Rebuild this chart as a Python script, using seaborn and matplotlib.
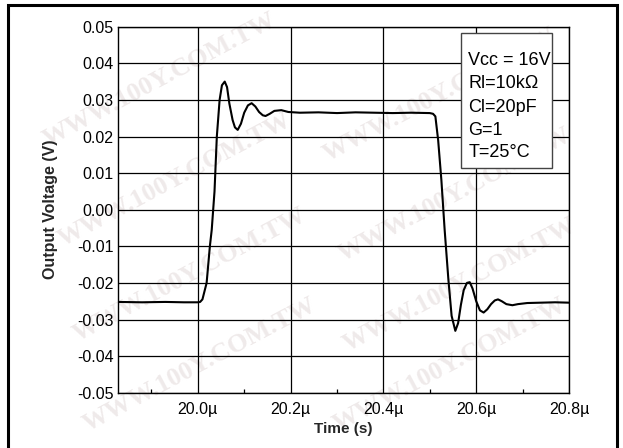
import matplotlib
matplotlib.use("Agg")
import matplotlib.pyplot as plt
from matplotlib.patches import Rectangle
from matplotlib.ticker import MultipleLocator, FuncFormatter
import seaborn as sns
import pandas as pd

# Step response of the amplifier output (time in microseconds, voltage in volts)
time_us = [
    19.828, 19.88, 19.93, 19.97, 20.000, 20.005, 20.010, 20.014, 20.019, 20.026,
    20.030, 20.036, 20.041, 20.047, 20.052, 20.058, 20.063, 20.068, 20.075, 20.080,
    20.086, 20.093, 20.100, 20.108, 20.116, 20.124, 20.132, 20.140, 20.146, 20.155,
    20.165, 20.180, 20.195, 20.22, 20.26, 20.30, 20.34, 20.38, 20.42, 20.46,
    20.500, 20.507, 20.512, 20.518, 20.525, 20.532, 20.540, 20.547, 20.555, 20.561,
    20.567, 20.573, 20.580, 20.586, 20.592, 20.600, 20.608, 20.616, 20.624, 20.632,
    20.640, 20.647, 20.655, 20.665, 20.678, 20.69, 20.71, 20.74, 20.77, 20.80,
]
voltage = [
    -0.0252, -0.0253, -0.0252, -0.0253, -0.0253, -0.0252, -0.0245, -0.0225, -0.0200, -0.0100,
    -0.0055, 0.0050, 0.0200, 0.0300, 0.0340, 0.0350, 0.0335, 0.0290, 0.0245, 0.0225,
    0.0218, 0.0235, 0.0265, 0.0285, 0.0291, 0.0282, 0.0267, 0.0258, 0.0256, 0.0262,
    0.0270, 0.0272, 0.0267, 0.0265, 0.0266, 0.0264, 0.0266, 0.0265, 0.0264, 0.0265,
    0.0264, 0.0262, 0.0255, 0.0190, 0.0080, -0.0055, -0.0190, -0.0290, -0.0331, -0.0310,
    -0.0260, -0.0220, -0.0200, -0.0198, -0.0215, -0.0250, -0.0275, -0.0281, -0.0272, -0.0258,
    -0.0248, -0.0245, -0.0250, -0.0258, -0.0261, -0.0258, -0.0255, -0.0254, -0.0253, -0.0254,
]

x_ticks = [20.0, 20.2, 20.4, 20.6, 20.8]
y_ticks = [-0.05, -0.04, -0.03, -0.02, -0.01, 0.00, 0.01, 0.02, 0.03, 0.04, 0.05]
conditions = ["Vcc = 16V", "Rl=10k\u03a9", "Cl=20pF", "G=1", "T=25\u00b0C"]

df = pd.DataFrame({"time": time_us, "voltage": voltage})

sns.set_theme(style="white")
plt.rcParams["font.family"] = ["Liberation Sans", "DejaVu Sans"]

fig = plt.figure(figsize=(6.23, 4.48), dpi=100)
fig.patch.set_facecolor("white")

# faint diagonal watermark behind the chart
wm_kw = dict(fontsize=19, fontweight="bold", color="#efeaea", rotation=28,
             family=["Liberation Serif", "DejaVu Serif"], ha="center", va="center",
             zorder=0)
for px, py in [(160, 80), (440, 95), (175, 180), (455, 195),
               (190, 275), (460, 285), (200, 365), (450, 365)]:
    fig.text(px / 623, 1 - py / 448, "WWW.100Y.COM.TW", **wm_kw)

# page frame (open at the bottom edge)
fig.add_artist(Rectangle((8 / 623, -0.05), 609 / 623, 1.05 - 5 / 448,
                         transform=fig.transFigure, fill=False,
                         edgecolor="black", linewidth=2.2, zorder=5))

ax = fig.add_axes([118 / 623, 1 - 392.7 / 448, 451 / 623, 366 / 448])
ax.set_zorder(2)
ax.patch.set_alpha(0)

sns.lineplot(data=df, x="time", y="voltage", ax=ax, color="black",
             linewidth=1.5, zorder=3)

ax.set_xlim(19.828, 20.8)
ax.set_ylim(-0.05, 0.05)
ax.set_xticks(x_ticks)
ax.set_yticks(y_ticks)
ax.xaxis.set_minor_locator(MultipleLocator(0.1))
ax.xaxis.set_major_formatter(FuncFormatter(lambda v, p: f"{v:.1f}\u00b5"))
ax.yaxis.set_major_formatter(FuncFormatter(lambda v, p: f"{v:.2f}"))

ax.grid(True, which="major", color="black", linewidth=0.9)
ax.tick_params(axis="both", which="major", direction="in", length=0,
               labelsize=11.5, colors="black", pad=3)
ax.tick_params(axis="x", which="major", pad=7)
ax.tick_params(axis="x", which="minor", direction="in", length=3,
               width=0.9, color="black", bottom=True)
for s in ax.spines.values():
    s.set_color("black")
    s.set_linewidth(1.0)

ax.set_xlabel("Time (s)", fontsize=11, fontweight="bold", labelpad=3)
ax.set_ylabel("Output Voltage (V)", fontsize=11.5, fontweight="bold", labelpad=14)

# test-condition box
ax.add_patch(Rectangle((0.760, 0.615), 0.2017, 0.368, transform=ax.transAxes,
                       facecolor="white", edgecolor="#444444", linewidth=1.0,
                       zorder=4))
line_y = [60.7, 83.5, 107, 130, 152.5]
for txt, py in zip(conditions, line_y):
    ax.text((468.5 - 118) / 451, (392.7 - py) / 366, txt, transform=ax.transAxes,
            fontsize=13, color="black", ha="left", va="center", zorder=5)

fig.savefig("out.png", dpi=100, facecolor="white")
